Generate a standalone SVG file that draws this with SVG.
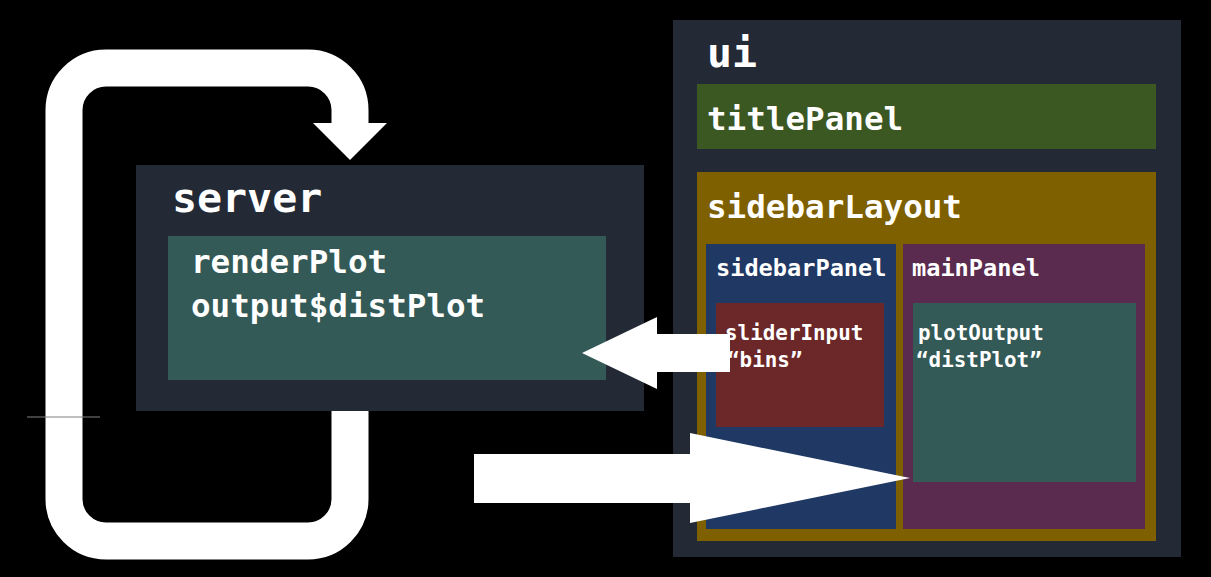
<svg xmlns="http://www.w3.org/2000/svg" width="1211" height="577" viewBox="0 0 1211 577">
<style>
.t{font-family:"DejaVu Sans Mono","Liberation Mono",monospace;font-weight:bold;fill:#ffffff}
.dark{fill:#232a35}
.teal{fill:#335a56}
.arrow{fill:#ffffff}
</style>
<rect x="0" y="0" width="1211" height="577" fill="#000000"/>
<g id="connectors">
  <path id="loop" d="M350,405 V499 A42,42 0 0 1 308,541 H106 A42,42 0 0 1 64,499 V110 A42,42 0 0 1 106,68 H308 A42,42 0 0 1 350,110 V124" fill="none" stroke="#ffffff" stroke-width="37"/>
  <polygon class="arrow" points="313,123 387,123 350,160"/>
  <line x1="27" y1="417" x2="100" y2="417" stroke="#808080" stroke-width="1"/>
</g>
<g id="server">
  <rect class="dark" x="136" y="165" width="508" height="246"/>
  <text class="t" x="172" y="212" font-size="41.6">server</text>
</g>
<g id="renderPlot">
  <rect class="teal" x="168" y="236" width="438" height="144"/>
  <text class="t" x="191" y="273" font-size="32.6">renderPlot</text>
  <text class="t" x="191" y="317" font-size="32.6">output$distPlot</text>
</g>
<g id="ui">
  <rect class="dark" x="673" y="20" width="508" height="537"/>
  <text class="t" x="707" y="67" font-size="41.6">ui</text>
</g>
<g id="titlePanel">
  <rect x="697" y="84" width="459" height="65" fill="#3b5722"/>
  <text class="t" x="707" y="130" font-size="32.6">titlePanel</text>
</g>
<g id="sidebarLayout">
  <rect x="697" y="172" width="459" height="369" fill="#7f6000"/>
  <text class="t" x="707" y="218" font-size="32.6">sidebarLayout</text>
</g>
<g id="sidebarPanel">
  <rect x="706" y="244" width="190" height="285" fill="#203864"/>
  <text class="t" x="716" y="276" font-size="23.6">sidebarPanel</text>
</g>
<g id="sliderInput">
  <rect x="716" y="303" width="168" height="124" fill="#6c2728"/>
  <text class="t" x="725" y="340" font-size="20.9">sliderInput</text>
  <text class="t" x="727" y="367" font-size="20.9">“bins”</text>
</g>
<g id="mainPanel">
  <rect x="903" y="244" width="242" height="285" fill="#5a2a4f"/>
  <text class="t" x="912" y="276" font-size="23.6">mainPanel</text>
</g>
<g id="plotOutput">
  <rect class="teal" x="913" y="303" width="223" height="179"/>
  <text class="t" x="918" y="340" font-size="20.9">plotOutput</text>
  <text class="t" x="916" y="367" font-size="20.9">“distPlot”</text>
</g>
<g id="flow-arrows">
  <polygon class="arrow" points="730,334 657,334 657,317 582,353 657,389 657,372 730,372"/>
  <polygon class="arrow" points="474,454 690,454 690,433 910,478 690,523 690,503 474,503"/>
</g>
</svg>
